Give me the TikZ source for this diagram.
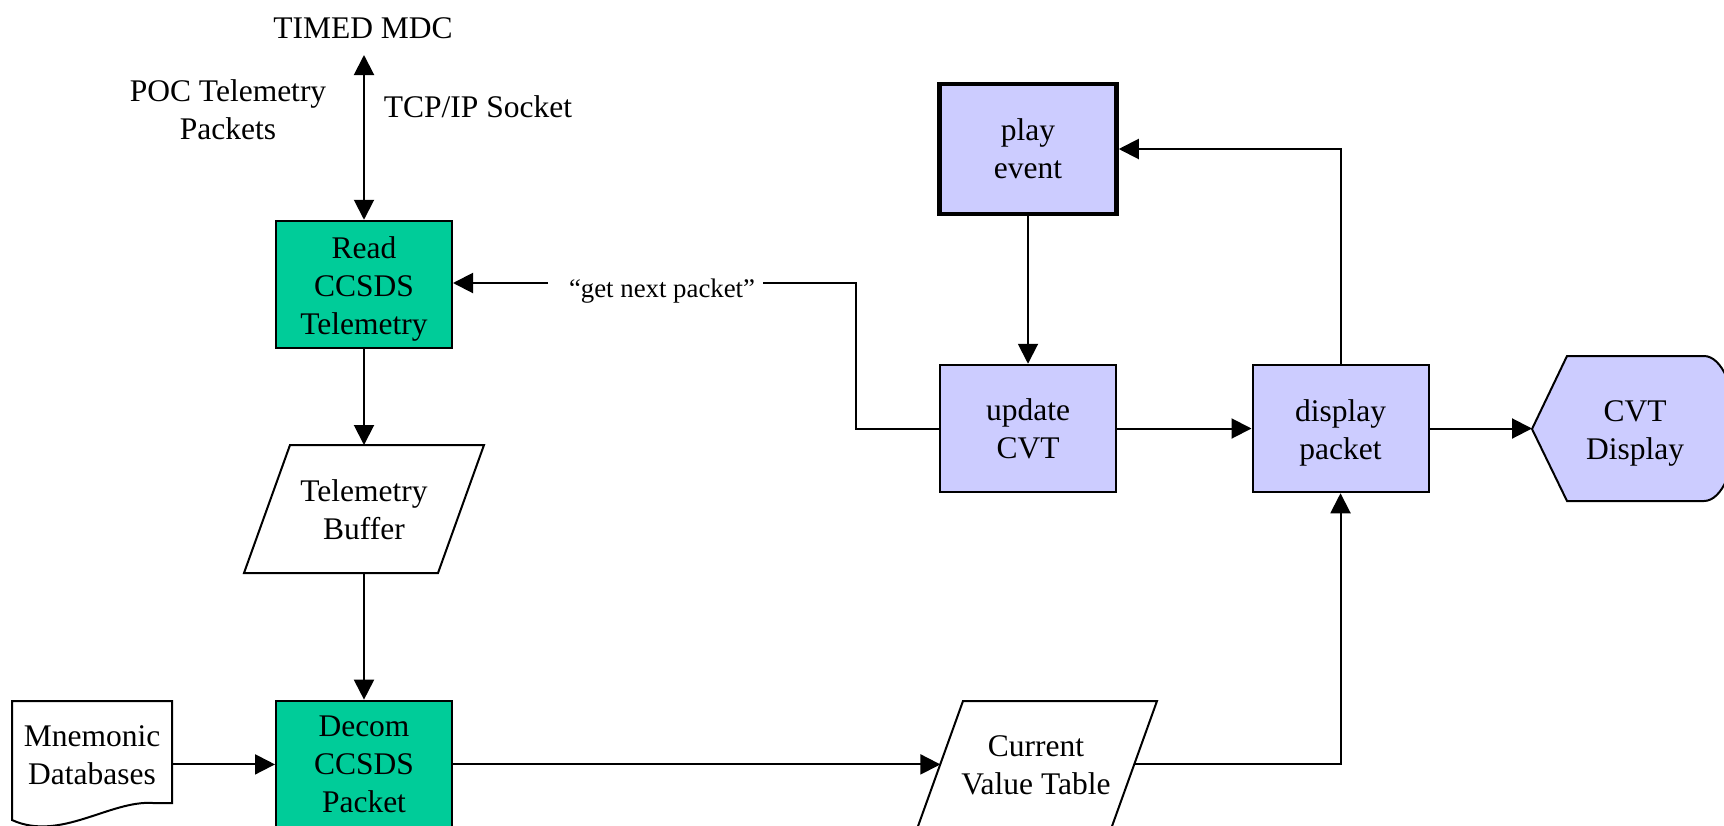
\documentclass[tikz,border=0pt]{standalone}
\usepackage{fontspec}
\setmainfont{Liberation Serif}
\usetikzlibrary{arrows.meta}
\definecolor{procgreen}{HTML}{00CC99}
\definecolor{proclav}{HTML}{CCCCFF}
% invisible strut that raises the top of a first text line
\newcommand{\tallline}[1]{\rule{0pt}{#1}}

\begin{document}
\begin{tikzpicture}[x=1pt,y=-1pt,
  txt/.style={font=\fontsize{31.5}{38}\selectfont, align=center, inner sep=0pt},
  smalltxt/.style={font=\fontsize{26.8}{32}\selectfont, inner sep=0pt},
  box/.style={txt, draw, line width=2pt, minimum width=176pt, minimum height=127.5pt},
  greenbox/.style={box, fill=procgreen},
  lavbox/.style={box, fill=proclav},
  store/.style={fill=white, line width=2pt},
  link/.style={line width=2pt},
  flow/.style={link, -{Triangle[length=20pt,width=20pt]}},
  bothflow/.style={link, {Triangle[length=20pt,width=20pt]}-{Triangle[length=20pt,width=20pt]}}
]
\useasboundingbox (0,0) rectangle (1724,825);
\clip (0,0) rectangle (1724,825);

% external source and its labels
\node[txt, anchor=base] (mdc) at (363,38.7) {TIMED MDC};
\coordinate (mdctip) at (364,55);
\node[txt] (poc) at (228,109.5) {POC Telemetry\\Packets};
\node[txt, anchor=base] (tcp) at (478,117) {TCP/IP Socket};

% processing boxes
\node[greenbox] (read) at (364,284.5) {\tallline{31.5pt}Read\\CCSDS\\Telemetry};
\node[greenbox] (decom) at (364,764.4) {Decom\\CCSDS\\Packet};
\node[lavbox, line width=4.5pt, minimum width=177pt, minimum height=130pt] (play) at (1028,149) {play\\event};
\node[lavbox] (upd) at (1028,428.5) {update\\CVT};
\node[lavbox] (disp) at (1340.5,428.5) {\tallline{30.3pt}display\\packet};

% telemetry buffer (parallelogram store)
\filldraw[store] (290,445) -- (484,445) -- (438,573) -- (244,573) -- cycle;
\node[txt] (tb) at (364,510) {Telemetry\\Buffer};
\coordinate (tbtop) at (364,445);
\coordinate (tbbot) at (364,573);

% current value table (parallelogram store)
\filldraw[store] (963,701) -- (1157,701) -- (1111,829) -- (917,829) -- cycle;
\node[txt] (cvt) at (1036,765) {Current\\Value Table};
\coordinate (cvtin) at (940.4,764.4);
\coordinate (cvtout) at (1134.4,764.4);

% mnemonic databases (document shape)
\filldraw[store]
  (12,701) -- (172,701) -- (172,803) -- (153,803)
  .. controls (110,800) and (60,842) .. (12,820) -- cycle;
\node[txt] (mnem) at (92,755.5) {Mnemonic\\Databases};
\coordinate (mnemr) at (172,764.4);

% CVT display (display shape)
\filldraw[fill=proclav, line width=2pt]
  (1532,429) -- (1567,356) -- (1704,356)
  .. controls (1721.7,356) and (1736,388.5) .. (1736,428.5)
  .. controls (1736,468.5) and (1721.7,501) .. (1704,501)
  -- (1567,501) -- cycle;
\node[txt] (cvtd) at (1635,433) {CVT\\Display};
\coordinate (cvtdtip) at (1532,428.5);

% "get next packet" request
\node[smalltxt, anchor=base] (gnp) at (662,297) {``get next packet''};
\coordinate (g1) at (548,283);
\coordinate (g2) at (763,283);

% connectors
\draw[bothflow] (mdctip) -- (read.north);
\draw[flow] (read.south) -- (tbtop);
\draw[flow] (tbbot) -- (decom.north);
\draw[flow] (mnemr) -- (decom.west);
\draw[flow] (decom.east) -- (cvtin);
\draw[flow] (cvtout) -| (disp.south);
\draw[flow] (play.south) -- (upd.north);
\draw[flow] (upd.east) -- (disp.west);
\draw[flow] (disp.east) -- (cvtdtip);
\draw[flow] (disp.north) |- (play.east);
\draw[link] (upd.west) -- ++(-83,0) |- (g2);
\draw[flow] (g1) -- (g1 -| read.east);
\end{tikzpicture}
\end{document}
